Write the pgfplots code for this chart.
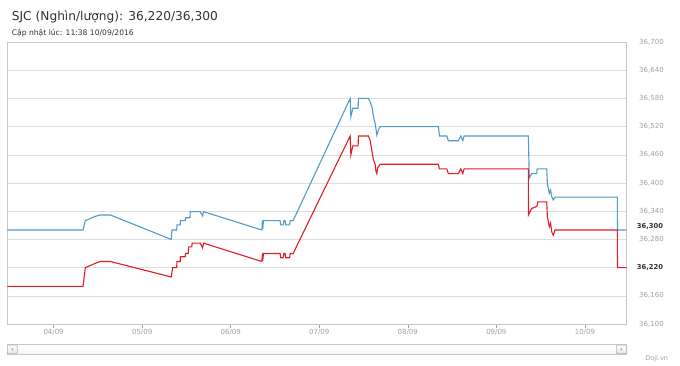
\documentclass[border=0pt]{standalone}
\usepackage{fontspec}
\setmainfont{DejaVu Sans}
\usepackage{pgfplots}
\pgfplotsset{compat=1.18}
\definecolor{sellblue}{RGB}{82,154,202}
\definecolor{buyred}{RGB}{226,28,34}
\definecolor{gridgray}{RGB}{222,222,222}
\definecolor{framegray}{RGB}{200,200,200}
\definecolor{labgray}{RGB}{160,160,160}
\definecolor{titlegray}{RGB}{50,50,50}

\pgfplotstableread{
d v
3.477 36300
4.332 36300
4.358 36320
4.47 36329
4.527 36332
4.640 36332
5.328 36280
5.336 36300
5.39 36300
5.393 36311
5.43 36311
5.432 36320
5.486 36320
5.49 36326
5.54 36326
5.543 36339
5.656 36339
5.682 36330
5.693 36339
6.352 36300
6.358 36320
6.362 36302
6.370 36320
6.558 36320
6.565 36311
6.592 36311
6.60 36320
6.614 36320
6.62 36311
6.665 36311
6.671 36320
6.705 36320
7.349 36580
7.357 36541
7.379 36559
7.439 36559
7.442 36580
7.555 36580
7.574 36573
7.597 36560
7.612 36541
7.631 36527
7.650 36502
7.668 36513
7.687 36520
8.345 36520
8.357 36500
8.440 36500
8.458 36490
8.571 36490
8.598 36500
8.621 36490
8.635 36500
9.361 36500
9.372 36410
9.400 36420
9.456 36420
9.46 36430
9.569 36430
9.576 36399
9.598 36378
9.612 36385
9.625 36371
9.643 36364
9.662 36370
10.366 36370
10.368 36300
10.472 36300
}\sell

\pgfplotstableread{
d v
3.477 36180
4.332 36180
4.358 36220
4.47 36229
4.527 36233
4.640 36233
5.328 36200
5.345 36220
5.39 36220
5.393 36233
5.43 36233
5.432 36243
5.486 36243
5.49 36250
5.52 36250
5.525 36264
5.56 36264
5.565 36272
5.656 36272
5.682 36262
5.693 36272
6.352 36233
6.358 36250
6.362 36235
6.370 36250
6.558 36250
6.565 36241
6.592 36241
6.60 36250
6.614 36250
6.62 36241
6.665 36241
6.671 36250
6.705 36250
7.349 36500
7.357 36460
7.379 36479
7.439 36479
7.442 36500
7.555 36500
7.574 36491
7.612 36449
7.631 36440
7.640 36425
7.650 36420
7.660 36432
7.687 36440
8.345 36440
8.357 36430
8.440 36430
8.458 36420
8.571 36420
8.598 36430
8.621 36420
8.635 36430
9.361 36430
9.363 36332
9.400 36346
9.456 36350
9.47 36360
9.569 36360
9.576 36328
9.598 36307
9.612 36315
9.625 36296
9.643 36289
9.662 36300
10.366 36300
10.368 36220
10.472 36220
}\buy

\begin{document}
\begin{tikzpicture}[x=1pt,y=1pt]
\path[use as bounding box] (0,0) rectangle (680,365);
\fill[white] (0,0) rectangle (680,365);
\begin{axis}[
  at={(7.3pt,41pt)}, anchor=south west, scale only axis,
  width=619.4pt, height=282pt,
  xmin=3.477, xmax=10.472, ymin=36100, ymax=36700,
  scaled y ticks=false, scaled x ticks=false,
  ytick={36100,36160,36220,36280,36340,36400,36460,36520,36580,36640,36700},
  yticklabels={{36,100},{36,160},{},{36,280},{36,340},{36,400},{36,460},{36,520},{36,580},{36,640},{36,700}},
  xtick={4,...,10},
  xticklabels={04/09,05/09,06/09,07/09,08/09,09/09,10/09},
  yticklabel pos=right,
  xtick pos=left,
  ymajorgrids,
  grid style={gridgray, line width=0.6pt},
  axis line style={framegray, line width=0.8pt},
  ytick style={draw=none},
  xtick style={draw=labgray, line width=0.6pt},
  tick align=outside,
  major tick length=4pt,
  yticklabel style={font=\fontsize{7}{8}\selectfont, text=labgray, xshift=5pt},
  xticklabel style={font=\fontsize{7}{8}\selectfont, text=labgray, yshift=2pt},
]
\addplot[sellblue, line width=1.1pt] table[x=d, y=v] {\sell};
\addplot[buyred, line width=1.1pt] table[x=d, y=v] {\buy};
\end{axis}

% current price labels
\node[anchor=west, inner sep=0.6pt, text=titlegray, font=\bfseries\fontsize{6.8}{8}\selectfont] at (636,139) {36,300};
\node[anchor=west, inner sep=0.6pt, text=titlegray, font=\bfseries\fontsize{6.8}{8}\selectfont] at (636,97.7) {36,220};

% titles
\node[anchor=base west, inner sep=0pt, text=titlegray, font=\fontsize{12.2}{14}\selectfont] at (11.7,344.3) {SJC (Nghìn/lượng): 36,220/36,300};
\node[anchor=base west, inner sep=0pt, text=titlegray, font=\fontsize{7.6}{9}\selectfont] at (11.7,329.7) {Cập nhật lúc: 11:38 10/09/2016};

% scrollbar
\shadedraw[top color=white, bottom color=gray!8, draw=framegray, line width=0.5pt] (7.3,10.7) rectangle (626.7,20.7);
\shadedraw[top color=white, bottom color=gray!20, draw=gray!60, line width=0.6pt, rounded corners=1pt] (7.3,11.3) rectangle (17.3,20);
\fill[gray!70] (11.2,15.65) -- (13.2,17.2) -- (13.2,14.1) -- cycle;
\shadedraw[top color=white, bottom color=gray!20, draw=gray!60, line width=0.6pt, rounded corners=1pt] (616.3,11.3) rectangle (626.7,20);
\fill[gray!70] (622.6,15.65) -- (620.6,17.2) -- (620.6,14.1) -- cycle;

\node[anchor=center, inner sep=0pt, text=labgray, font=\fontsize{6.5}{8}\selectfont] at (656.7,6.7) {Doji.vn};
\end{tikzpicture}
\end{document}
